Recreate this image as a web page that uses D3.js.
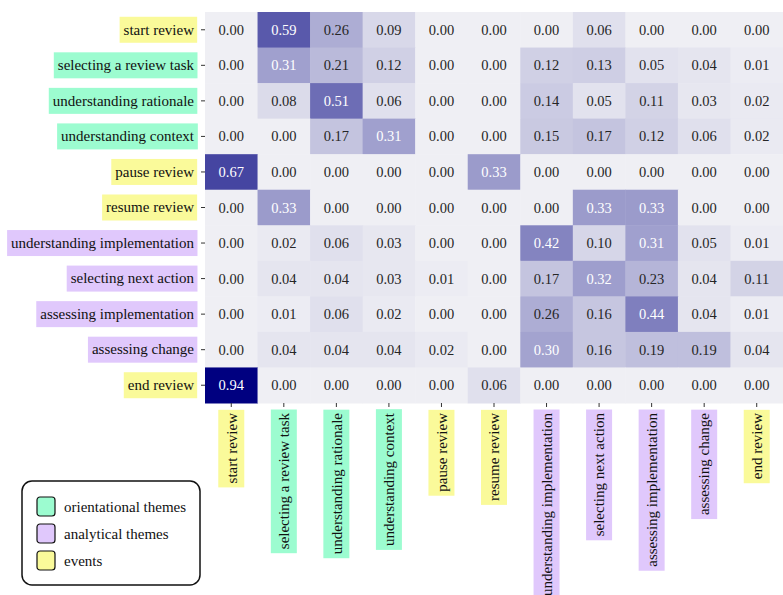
<!DOCTYPE html>
<html>
<head>
<meta charset="utf-8">
<script src="https://cdn.jsdelivr.net/npm/d3@7"></script>
<style>
  body { margin: 0; background: #fff; }
  svg { display: block; font-family: "Liberation Serif", "DejaVu Serif", serif; }
</style>
</head>
<body>
<script>
const themes = ["start review", "selecting a review task", "understanding rationale", "understanding context",
  "pause review", "resume review", "understanding implementation", "selecting next action",
  "assessing implementation", "assessing change", "end review"];

// which group each theme belongs to
const themeGroup = ["events", "orientational", "orientational", "orientational",
  "events", "events", "analytical", "analytical", "analytical", "analytical", "events"];

// transition probabilities, row = from, column = to
const values = [
  [0.00, 0.59, 0.26, 0.09, 0.00, 0.00, 0.00, 0.06, 0.00, 0.00, 0.00],
  [0.00, 0.31, 0.21, 0.12, 0.00, 0.00, 0.12, 0.13, 0.05, 0.04, 0.01],
  [0.00, 0.08, 0.51, 0.06, 0.00, 0.00, 0.14, 0.05, 0.11, 0.03, 0.02],
  [0.00, 0.00, 0.17, 0.31, 0.00, 0.00, 0.15, 0.17, 0.12, 0.06, 0.02],
  [0.67, 0.00, 0.00, 0.00, 0.00, 0.33, 0.00, 0.00, 0.00, 0.00, 0.00],
  [0.00, 0.33, 0.00, 0.00, 0.00, 0.00, 0.00, 0.33, 0.33, 0.00, 0.00],
  [0.00, 0.02, 0.06, 0.03, 0.00, 0.00, 0.42, 0.10, 0.31, 0.05, 0.01],
  [0.00, 0.04, 0.04, 0.03, 0.01, 0.00, 0.17, 0.32, 0.23, 0.04, 0.11],
  [0.00, 0.01, 0.06, 0.02, 0.00, 0.00, 0.26, 0.16, 0.44, 0.04, 0.01],
  [0.00, 0.04, 0.04, 0.04, 0.02, 0.00, 0.30, 0.16, 0.19, 0.19, 0.04],
  [0.94, 0.00, 0.00, 0.00, 0.00, 0.06, 0.00, 0.00, 0.00, 0.00, 0.00]
];

const legendGroups = ["orientational", "analytical", "events"];
const legendLabels = ["orientational themes", "analytical themes", "events"];
const groupColors = { orientational: "#9cfcd0", analytical: "#e0c8fc", events: "#fafa9a" };

const w = 783, h = 595;
const mLeft = 205, mTop = 12, cw = 578, ch = 391;
const labelSize = 15;

const cells = [];
values.forEach((row, i) => row.forEach((v, j) => cells.push({ from: themes[i], to: themes[j], v: v })));

const x = d3.scaleBand().domain(themes).range([mLeft, mLeft + cw]);
const y = d3.scaleBand().domain(themes).range([mTop, mTop + ch]);
const color = d3.scaleLinear().domain([0, d3.max(cells, d => d.v)])
  .range(["#efeff4", "#000080"]).interpolate(d3.interpolateRgb);

function lum(c) {
  const rgb = d3.rgb(c);
  const f = u => { u /= 255; return u <= 0.03928 ? u / 12.92 : Math.pow((u + 0.055) / 1.055, 2.4); };
  return 0.2126 * f(rgb.r) + 0.7152 * f(rgb.g) + 0.0722 * f(rgb.b);
}

const svg = d3.select("body").append("svg").attr("width", w).attr("height", h);

svg.selectAll("rect.cell")
  .data(cells)
  .enter()
  .append("rect")
  .attr("class", "cell")
  .attr("x", d => x(d.to))
  .attr("y", d => y(d.from))
  .attr("width", x.bandwidth() + 0.5)
  .attr("height", y.bandwidth() + 0.5)
  .attr("fill", d => color(d.v));

svg.selectAll("text.val")
  .data(cells)
  .enter()
  .append("text")
  .attr("class", "val")
  .attr("x", d => x(d.to) + x.bandwidth() / 2)
  .attr("y", d => y(d.from) + y.bandwidth() / 2)
  .attr("dy", "0.35em")
  .attr("text-anchor", "middle")
  .attr("font-size", 14.5)
  .attr("fill", d => lum(color(d.v)) > 0.408 ? "#262626" : "#ffffff")
  .text(d => d.v.toFixed(2));

const groupOf = t => themeGroup[themes.indexOf(t)];

// y axis
const gy = svg.append("g")
  .attr("transform", "translate(" + mLeft + ",0)")
  .call(d3.axisLeft(y).tickSize(4).tickPadding(7));
gy.select(".domain").remove();
gy.selectAll(".tick line").attr("stroke", "#333");
gy.selectAll(".tick text").attr("font-size", labelSize).attr("fill", "#111")
  .style("font-family", "Liberation Serif, serif");
gy.selectAll(".tick").each(function(d) {
  const t = d3.select(this).select("text");
  const b = t.node().getBBox();
  d3.select(this).insert("rect", "text")
    .attr("x", b.x - 4).attr("y", -13)
    .attr("width", b.width + 7).attr("height", 26)
    .attr("fill", groupColors[groupOf(d)]);
});

// x axis
const gx = svg.append("g")
  .attr("transform", "translate(0," + (mTop + ch) + ")")
  .call(d3.axisBottom(x).tickSize(4).tickPadding(8));
gx.select(".domain").remove();
gx.selectAll(".tick line").attr("stroke", "#333");
gx.selectAll(".tick text")
  .attr("font-size", labelSize).attr("fill", "#111")
  .style("font-family", "Liberation Serif, serif")
  .attr("transform", "rotate(-90)")
  .attr("text-anchor", "end")
  .attr("x", -10).attr("y", 0).attr("dy", "0.35em");
gx.selectAll(".tick").each(function(d) {
  const t = d3.select(this).select("text");
  const b = t.node().getBBox();
  d3.select(this).insert("rect", "text")
    .attr("transform", "rotate(-90)")
    .attr("x", b.x - 4).attr("y", -13)
    .attr("width", b.width + 7).attr("height", 26)
    .attr("fill", groupColors[groupOf(d)]);
});

// legend
const lg = svg.append("g").attr("transform", "translate(22,481)");
lg.append("rect")
  .attr("width", 178).attr("height", 104).attr("rx", 10)
  .attr("fill", "#fff").attr("stroke", "#111").attr("stroke-width", 1.5);
legendGroups.forEach((g, i) => {
  const row = lg.append("g").attr("transform", "translate(15," + (16 + i * 27) + ")");
  row.append("rect")
    .attr("width", 18).attr("height", 19).attr("rx", 3)
    .attr("fill", groupColors[g]).attr("stroke", "#111").attr("stroke-width", 1.2);
  row.append("text")
    .attr("x", 27).attr("y", 9.5).attr("dy", "0.35em")
    .attr("font-size", 15).attr("fill", "#111")
    .text(legendLabels[i]);
});
</script>
</body>
</html>
